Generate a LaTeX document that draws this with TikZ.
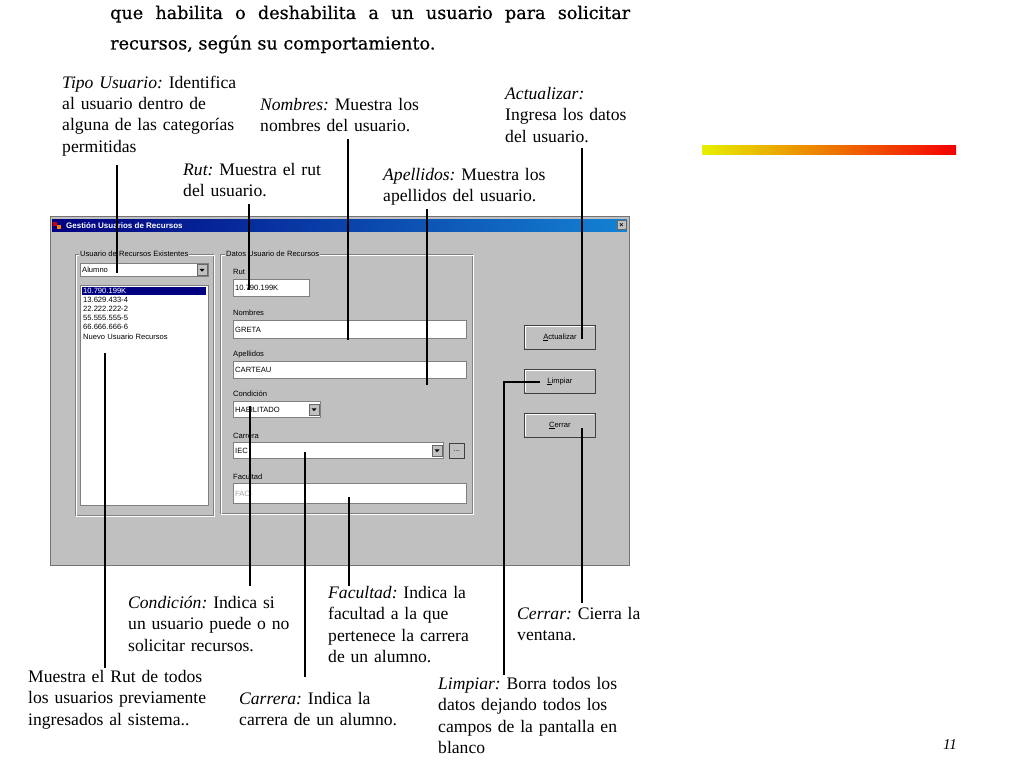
\documentclass[tikz,border=0pt]{standalone}
\usepackage{fontspec}
\setmainfont{Liberation Serif}
\newfontfamily\guifont{Liberation Sans}
\newfontfamily\headfont[FakeBold=0.6]{DejaVu Serif}
\usetikzlibrary{calc}

\definecolor{winbg}{RGB}{192,192,192}
\definecolor{winnavy}{RGB}{0,0,128}
\definecolor{winblue}{RGB}{20,130,210}
\definecolor{etch}{RGB}{128,128,128}
\definecolor{barleft}{RGB}{230,240,0}
\definecolor{barright}{RGB}{245,0,0}

\begin{document}
\frenchspacing
\begin{tikzpicture}
[x=1pt,y=-1pt,
note/.style={anchor=base west,inner sep=0pt,text width=240pt,align=left,font=\fontsize{17.6}{21.5}\selectfont},
gui/.style={inner sep=0pt,anchor=west,font=\guifont\fontsize{7.6}{9}\selectfont},
field/.style={draw=etch,fill=white,line width=0.8pt,inner sep=0pt,anchor=north west},
btn/.style={draw=black!75,fill=winbg,line width=0.9pt,inner sep=0pt,anchor=north west,minimum width=71pt,minimum height=24pt,font=\guifont\fontsize{7.6}{9}\selectfont},
arrowbox/.style={draw=black!60,fill=winbg,line width=0.5pt,inner sep=0pt,anchor=east,minimum width=10pt,minimum height=11pt},
lead/.style={line width=2.6pt},
thinlead/.style={line width=1.4pt},
]
\useasboundingbox (0,0) rectangle (1024,768);

%Heading text
\node[anchor=base west,inner sep=0pt,text width=520pt,align=justify,font=\headfont\fontsize{17.6}{30.5}\selectfont] (head) at (110,19) {que habilita o deshabilita a un usuario para solicitar\linebreak recursos, según su comportamiento.};

%Colour bar
\shade[left color=barleft,right color=barright] (702,145) rectangle (956,154);

%Window and title bar
\node[fill=winbg,draw=black!55,line width=0.8pt,anchor=north west,inner sep=0pt,minimum width=579pt,minimum height=349pt] (win) at (50,216) {};
\shade[left color=winnavy,right color=winblue] (52,219) rectangle (627,231);
\fill[red!80!black] (53,222) rectangle (57,226);
\fill[orange] (57,225) rectangle (61,229);
\node[gui,text=white,font=\guifont\bfseries\fontsize{8}{9}\selectfont] (title) at (66,225.5) {Gestión Usuarios de Recursos};
\node[draw=black!60,fill=winbg,inner sep=0pt,minimum width=9pt,minimum height=9pt,font=\guifont\bfseries\fontsize{7}{7}\selectfont] (close) at (621.5,225) {×};

%Group boxes
\draw[etch] (75,254) rectangle (213,515);
\draw[white] (76,255) rectangle (214,516);
\node[gui,fill=winbg,inner xsep=1pt] (grpA) at (79,254) {Usuario de Recursos Existentes};
\draw[etch] (220,254) rectangle (472,513);
\draw[white] (221,255) rectangle (473,514);
\node[gui,fill=winbg,inner xsep=1pt] (grpB) at (225,254) {Datos Usuario de Recursos};

%Tipo usuario combo
\node[field,minimum width=128pt,minimum height=13pt] (cbTipo) at (80,263) {};
\node[gui] at ([xshift=2pt]cbTipo.west) {Alumno};
\node[arrowbox] (arTipo) at ([xshift=-1.5pt]cbTipo.east) {};

%List of ruts
\node[field,minimum width=128pt,minimum height=220pt] (lstRut) at (80,285) {};
\fill[winnavy] (82,286.5) rectangle (206,294.5);
\node[gui,text=white] at (83,290.5) {10.790.199K};
\foreach \r [count=\i] in {13.629.433-4,22.222.222-2,55.555.555-5,66.666.666-6,Nuevo Usuario Recursos}
  \node[gui] at (83,{290.5+9.2*\i}) {\r};

%Datos fields
\node[gui] (lbRut) at (233,272) {Rut};
\node[field,minimum width=76pt,minimum height=17pt] (txRut) at (233,279) {};
\node[gui] at ([xshift=2pt]txRut.west) {10.790.199K};
\node[gui] (lbNom) at (233,313) {Nombres};
\node[field,minimum width=233pt,minimum height=18pt] (txNom) at (233,320) {};
\node[gui] at ([xshift=2pt]txNom.west) {GRETA};
\node[gui] (lbApe) at (233,355) {Apellidos};
\node[field,minimum width=233pt,minimum height=17pt] (txApe) at (233,361) {};
\node[gui] at ([xshift=2pt]txApe.west) {CARTEAU};
\node[gui] (lbCond) at (233,394) {Condición};
\node[field,minimum width=87pt,minimum height=16pt] (cbCond) at (233,401) {};
\node[gui] at ([xshift=2pt]cbCond.west) {HABILITADO};
\node[arrowbox] (arCond) at ([xshift=-1.5pt]cbCond.east) {};
\node[gui] (lbCarr) at (233,436) {Carrera};
\node[field,minimum width=210pt,minimum height=16pt] (cbCarr) at (233,442) {};
\node[gui] at ([xshift=2pt]cbCarr.west) {IEC};
\node[arrowbox] (arCarr) at ([xshift=-1.5pt]cbCarr.east) {};
\node[btn,minimum width=15pt,minimum height=15pt,line width=0.6pt] (btDots) at (449,443) {...};
\node[gui] (lbFac) at (233,477) {Facultad};
\node[field,minimum width=233pt,minimum height=20pt] (txFac) at (233,483) {};
\node[gui,text=black!35] at ([xshift=2pt]txFac.west) {FACI};
\foreach \a in {arTipo,arCond,arCarr}
  \fill ([shift={(-2.5,-1)}]\a.center) -- ([shift={(2.5,-1)}]\a.center) -- ([shift={(0,1.8)}]\a.center) -- cycle;

%Buttons
\node[btn] (btAct) at (524,325) {\underline{A}ctualizar};
\node[btn] (btLim) at (524,369) {\underline{L}impiar};
\node[btn] (btCer) at (524,413) {\underline{C}errar};
\foreach \b in {btAct,btLim,btCer}
  \draw[white,line width=0.8pt] ([shift={(1.2,22.5)}]\b.north west) -- ([shift={(1.2,1.2)}]\b.north west) -- ([shift={(69.5,1.2)}]\b.north west);

%Labeling the fields
\node[note] (tipo) at (62,88) {\textit{Tipo Usuario:} Identifica\\al usuario dentro de\\alguna de las categorías\\permitidas};
\node[note] (nom) at (260,110) {\textit{Nombres:} Muestra los\\nombres del usuario.};
\node[note] (act) at (505,99) {\textit{Actualizar:}\\Ingresa los datos\\del usuario.};
\node[note] (rut) at (183,175) {\textit{Rut:} Muestra el rut\\del usuario.};
\node[note] (ape) at (383,180) {\textit{Apellidos:} Muestra los\\apellidos del usuario.};
\node[note] (cond) at (128,608) {\textit{Condición:} Indica si\\un usuario puede o no\\solicitar recursos.};
\node[note] (fac) at (328,598) {\textit{Facultad:} Indica la\\facultad a la que\\pertenece la carrera\\de un alumno.};
\node[note] (cer) at (517,619) {\textit{Cerrar:} Cierra la\\ventana.};
\node[note] (lst) at (28,682) {Muestra el Rut de todos\\los usuarios previamente\\ingresados al sistema..};
\node[note] (carr) at (239,704) {\textit{Carrera:} Indica la\\carrera de un alumno.};
\node[note] (lim) at (438,689) {\textit{Limpiar:} Borra todos los\\datos dejando todos los\\campos de la pantalla en\\blanco};
\node[anchor=base,inner sep=0pt,font=\itshape\fontsize{15}{18}\selectfont] (pg) at (950,749) {11};

%Line ends in the window
\coordinate (eTipo) at (117,273);
\coordinate (eRut) at (249,290);
\coordinate (eNom) at (348,340);
\coordinate (eApe) at (427,385);
\coordinate (eAct) at (582,339);
\coordinate (eLst) at (105,353);
\coordinate (eCond) at (250,406);
\coordinate (eCarr) at (305,452);
\coordinate (eFac) at (349,497);
\coordinate (eLim) at (540,382);
\coordinate (cLim) at (504,382);
\coordinate (eCer) at (582,428);

%Leader lines
\draw[thinlead] ($(tipo.south -| eTipo)+(0,9)$) -- (eTipo);
\draw[lead] ($(rut.south -| eRut)+(0,7.5)$) -- (eRut);
\draw[thinlead] ($(nom.south -| eNom)+(0,7)$) -- (eNom);
\draw[lead] ($(ape.south -| eApe)+(0,4)$) -- (eApe);
\draw[thinlead] ($(act.south -| eAct)+(0,6)$) -- (eAct);
\draw[lead] (eLst) -- ($(lst.north -| eLst)+(0,-2)$);
\draw[lead] (eCond) -- ($(cond.north -| eCond)+(0,-10)$);
\draw[lead] (eCarr) -- ($(carr.north -| eCarr)+(0,-15)$);
\draw[thinlead] (eFac) -- (fac.north -| eFac);
\draw[lead] (eLim) -- (cLim) -- ($(lim.north -| cLim)+(0,-2)$);
\draw[thinlead] (eCer) -- ($(cer.north -| eCer)+(0,-4)$);
\end{tikzpicture}
\end{document}
